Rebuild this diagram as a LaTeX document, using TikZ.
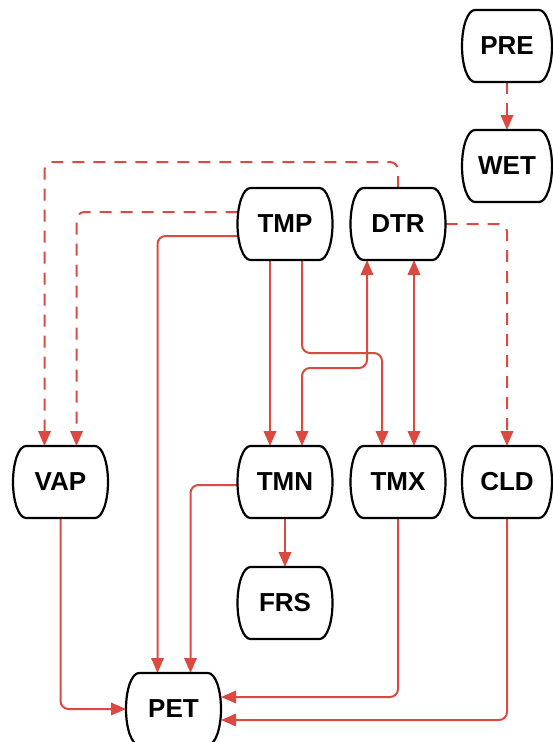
\documentclass[tikz,border=0pt]{standalone}
\usepackage{fontspec}
\setmainfont{Liberation Sans}
\usetikzlibrary{arrows.meta,calc}
\definecolor{edgered}{RGB}{219,74,64}
\tikzset{
  box/.style={minimum width=95pt,minimum height=72pt,inner sep=0pt,outer sep=0pt,
    font=\fontsize{26}{30}\selectfont\bfseries},
  narrowbox/.style={box,minimum width=90pt},
  boxline/.style={draw=black,line width=2.2pt,line join=round},
  conn/.style={draw=edgered,line width=2pt,rounded corners=8pt,
    -{Triangle[length=15pt,width=12.5pt]}},
  dconn/.style={conn,dash pattern=on 12pt off 9pt},
  biconn/.style={conn,{Triangle[length=15pt,width=12.5pt]}-{Triangle[length=15pt,width=12.5pt]}}
}
\begin{document}
\begin{tikzpicture}[x=1pt,y=1pt]
\useasboundingbox (0,0) rectangle (553,-742);
% nodes
\node[narrowbox] (PRE) at (507,-46) {PRE};
\node[narrowbox] (WET) at (507,-166) {WET};
\node[box] (TMP) at (285,-224) {TMP};
\node[box] (DTR) at (398,-224) {DTR};
\node[box] (VAP) at (60.5,-482) {VAP};
\node[box] (TMN) at (285,-482) {TMN};
\node[box] (TMX) at (398,-482) {TMX};
\node[narrowbox] (CLD) at (507,-482) {CLD};
\node[box] (FRS) at (285,-603) {FRS};
\node[box] (PET) at (173.5,-709) {PET};
% connectors
\draw[dconn] (PRE) -- (WET);
\draw[dconn] (DTR.north) -- ++(0,26) -| ([xshift=-16pt]VAP.north);
\draw[dconn] ([yshift=12pt]TMP.west) -| ([xshift=16pt]VAP.north);
\draw[dconn] (DTR.east) -| (CLD.north);
\draw[conn] ([yshift=-12pt]TMP.west) -| ([xshift=-16pt]PET.north);
\draw[conn] ([xshift=-15pt]TMP.south) -- ([xshift=-15pt]TMN.north);
\draw[conn] ([xshift=17pt]TMP.south) -- ++(0,-93) -| ([xshift=-16pt]TMX.north);
\draw[biconn] ([xshift=-31pt]DTR.south) -- ++(0,-108) -| ([xshift=17pt]TMN.north);
\draw[biconn] ([xshift=16pt]DTR.south) -- ([xshift=16pt]TMX.north);
\draw[conn] (TMN) -- (FRS);
\draw[conn] ([yshift=-3pt]TMN.west) -| ([xshift=17pt]PET.north);
\draw[conn] (VAP.south) |- (PET.west);
\draw[conn] (TMX.south) |- ([yshift=12pt]PET.east);
\draw[conn] (CLD.south) |- ([yshift=-11pt]PET.east);
% node outlines (flat top and bottom, bulging sides)
\foreach \n in {PRE,WET,TMP,DTR,VAP,TMN,TMX,CLD,FRS,PET}{
  \draw[boxline] ($(\n.north west)+(13pt,0)$) -- ($(\n.north east)+(-13pt,0)$)
    .. controls ($(\n.north east)+(-5.8pt,0)$) and ($(\n.east)+(0,19.9pt)$) .. (\n.east)
    .. controls ($(\n.east)+(0,-19.9pt)$) and ($(\n.south east)+(-5.8pt,0)$) .. ($(\n.south east)+(-13pt,0)$)
    -- ($(\n.south west)+(13pt,0)$)
    .. controls ($(\n.south west)+(5.8pt,0)$) and ($(\n.west)+(0,-19.9pt)$) .. (\n.west)
    .. controls ($(\n.west)+(0,19.9pt)$) and ($(\n.north west)+(5.8pt,0)$) .. cycle;
}
\end{tikzpicture}
\end{document}
